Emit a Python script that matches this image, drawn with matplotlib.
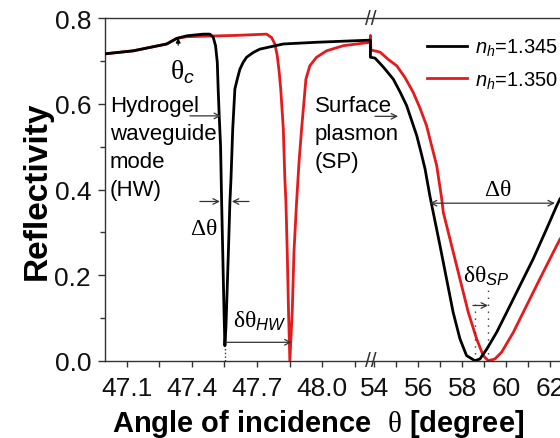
import numpy as np
import matplotlib
matplotlib.use("Agg")
import matplotlib.pyplot as plt
from matplotlib.scale import FuncScale
from matplotlib.ticker import FixedLocator, FixedFormatter

plt.rcParams['font.family'] = ['Liberation Sans', 'DejaVu Sans']
plt.rcParams['mathtext.fontset'] = 'custom'
plt.rcParams['mathtext.rm'] = 'Liberation Serif'
plt.rcParams['mathtext.it'] = 'Liberation Sans:italic'
plt.rcParams['mathtext.bf'] = 'Liberation Sans:bold'
plt.rcParams['mathtext.sf'] = 'Liberation Sans'

# ---------------- data ----------------
# broken axis: left segment 47.0-48.222 deg, right segment 53.82-62.46 deg
left_end = 48.222
right_start = 53.82

black_angle = [47.0, 47.13, 47.284, 47.33, 47.376, 47.452, 47.483, 47.498, 47.509,
               47.517, 47.521, 47.526, 47.532, 47.537, 47.542, 47.548, 47.552,
               47.557, 47.563, 47.569, 47.575, 47.580, 47.588, 47.598, 47.609,
               47.621, 47.636, 47.652, 47.682, 47.713, 47.821, 47.974, 48.222,
               53.82, 54.03, 54.41, 54.86, 55.17, 55.47, 55.70, 55.93, 56.12, 56.31,
               56.53, 56.68, 56.99, 57.29, 57.59, 57.90, 58.20, 58.58, 58.81, 59.12,
               59.57, 60.03, 60.63, 61.24, 61.85, 62.31, 62.46]
black_refl = [0.717, 0.724, 0.740, 0.753, 0.759, 0.763, 0.763, 0.756, 0.736,
              0.697, 0.635, 0.570, 0.502, 0.37, 0.254, 0.114, 0.035,
              0.082, 0.175, 0.269, 0.37, 0.425, 0.541, 0.635, 0.658,
              0.681, 0.697, 0.709, 0.720, 0.728, 0.740, 0.744, 0.749,
              0.709, 0.707, 0.686, 0.658, 0.628, 0.596, 0.561, 0.526, 0.488, 0.448,
              0.385, 0.347, 0.269, 0.191, 0.113, 0.051, 0.012, 0.0, 0.004, 0.027,
              0.066, 0.113, 0.175, 0.238, 0.308, 0.362, 0.378]

red_angle = [47.0, 47.13, 47.284, 47.33, 47.376, 47.45, 47.6, 47.744, 47.767,
             47.782, 47.793, 47.802, 47.809, 47.821, 47.828, 47.833, 47.839, 47.845,
             47.851, 47.862, 47.870, 47.882, 47.893, 47.905, 47.925, 47.943, 47.974,
             48.020, 48.097, 48.222,
             53.82, 53.84, 54.26, 54.63, 55.02, 55.39, 55.77, 56.08, 56.38, 56.61,
             56.84, 57.07, 57.14, 57.52, 57.90, 58.28, 58.66, 58.96, 59.19, 59.49,
             59.80, 60.33, 60.94, 61.54, 62.15, 62.46]
red_refl = [0.717, 0.724, 0.740, 0.753, 0.757, 0.758, 0.760, 0.763, 0.755,
            0.740, 0.713, 0.674, 0.635, 0.541, 0.425, 0.37, 0.254, 0.114,
            0.0, 0.114, 0.254, 0.37, 0.462, 0.541, 0.658, 0.689, 0.709,
            0.724, 0.736, 0.744,
            0.760, 0.726, 0.721, 0.704, 0.689, 0.662, 0.627, 0.590, 0.549, 0.502,
            0.456, 0.378, 0.347, 0.269, 0.191, 0.113, 0.051, 0.012, 0.0, 0.004,
            0.02, 0.066, 0.129, 0.191, 0.253, 0.284]

series_labels = [r'$n_h$=1.345', r'$n_h$=1.350']
major_ticks = [47.1, 47.4, 47.7, 48.0, 54, 56, 58, 60, 62]
major_labels = ['47.1', '47.4', '47.7', '48.0', '54', '56', '58', '60', '62']
minor_ticks = [47.25, 47.55, 47.85, 48.15, 55, 57, 59, 61]

# ---------------- broken-axis scale ----------------
k = 21.95 / 217.3


def fwd(x):
    x = np.asarray(x, dtype=float)
    mid = 0.5 * (left_end + right_start)
    return np.where(x <= mid, x, left_end + (x - right_start) * k)


def inv(y):
    y = np.asarray(y, dtype=float)
    return np.where(y <= left_end, y, right_start + (y - left_end) / k)


fig = plt.figure(figsize=(5.6, 4.39), dpi=100)
ax = fig.add_axes([105 / 560, 77.3 / 439, 455 / 560, 342.4 / 439])
ax.set_xscale(FuncScale(ax, (fwd, inv)))

BLACK = '#000000'
RED = '#e41a1c'
ax.plot(black_angle, black_refl, color=BLACK, lw=2.0, label=series_labels[0], zorder=3,
        solid_joinstyle='round')
ax.plot(red_angle, red_refl, color=RED, lw=2.0, label=series_labels[1], zorder=2,
        solid_joinstyle='round')

ax.set_xlim(47.0, 62.46)
ax.set_ylim(0, 0.8)

ax.xaxis.set_major_locator(FixedLocator(major_ticks))
ax.xaxis.set_major_formatter(FixedFormatter(major_labels))
ax.xaxis.set_minor_locator(FixedLocator(minor_ticks))
ax.set_yticks([0.0, 0.2, 0.4, 0.6, 0.8])
ax.set_yticklabels(['0.0', '0.2', '0.4', '0.6', '0.8'])
ax.set_yticks([0.1, 0.3, 0.5, 0.7], minor=True)

sc = '#333333'
for s in ['left', 'bottom', 'top']:
    ax.spines[s].set_color(sc)
    ax.spines[s].set_linewidth(1.0)
ax.spines['right'].set_visible(False)
ax.tick_params(axis='both', which='both', direction='out', color=sc, width=1.0,
               labelsize=19, labelcolor='#111111')
ax.tick_params(axis='x', which='both', length=4, pad=7)
ax.tick_params(axis='y', which='major', length=5, pad=5)
ax.tick_params(axis='y', which='minor', length=3.5)

ax.set_ylabel('Reflectivity', fontsize=24, fontweight='bold', labelpad=1)
ax.set_xlabel(r'Angle of incidence  $\mathrm{\theta}$ [degree]', fontsize=21,
              fontweight='bold')
ax.xaxis.set_label_coords((318 - 105) / 455, -0.135)
ax.xaxis.label.set_va('top')

# break marks
for yy in (1.0, 0.0):
    ax.text(left_end, yy, '//', transform=ax.get_xaxis_transform(), ha='center',
            va='center', fontsize=15, color=sc, clip_on=False)

# legend
leg = ax.legend(loc='upper left', bbox_to_anchor=(427 / 560, (439 - 38) / 439),
                bbox_transform=fig.transFigure, frameon=False, fontsize=14.5,
                handlelength=2.0, handletextpad=0.4, borderpad=0, borderaxespad=0,
                labelspacing=0.55)

ac = '#333333'
ap = dict(arrowstyle='->', lw=0.9, color=ac, shrinkA=0, shrinkB=0, mutation_scale=10)

# HW text + arrow
ax.text(47.023, 0.621, 'Hydrogel\nwaveguide\nmode\n(HW)', fontsize=16, ha='left', va='top',
        linespacing=1.43)
ax.annotate('', xy=(47.534, 0.572), xytext=(47.391, 0.572), arrowprops=ap)

# theta_c
ax.annotate('', xy=(47.337, 0.754), xytext=(47.337, 0.737),
            arrowprops=dict(arrowstyle='-|>', lw=0.8, color='k', shrinkA=0, shrinkB=0,
                            mutation_scale=7))
ax.text(47.30, 0.676, r'$\mathrm{\theta}_c$', fontsize=20, ha='left', va='center')

# delta theta (HW)
ax.annotate('', xy=(47.529, 0.372), xytext=(47.437, 0.372), arrowprops=ap)
ax.annotate('', xy=(47.584, 0.372), xytext=(47.663, 0.372), arrowprops=ap)
ax.text(47.453, 0.309, r'$\mathrm{\Delta\theta}$', fontsize=17, ha='center', va='center')

# small delta theta HW
ax.annotate('', xy=(47.859, 0.043), xytext=(47.556, 0.043), arrowprops=ap)
ax.text(47.59, 0.094, r'$\mathrm{\delta\theta}_{HW}$', fontsize=17, ha='left', va='center')
ax.plot([47.552, 47.552], [0.0, 0.03], ls=':', color=ac, lw=1)

# SP text + arrow
ax.text(47.966, 0.621, 'Surface\nplasmon\n(SP)', fontsize=16, ha='left', va='top',
        linespacing=1.43)
ax.annotate('', xy=(55.08, 0.571), xytext=(54.03, 0.571), arrowprops=ap)

# delta theta SP
ax.annotate('', xy=(62.23, 0.368), xytext=(56.53, 0.368),
            arrowprops=dict(arrowstyle='<->', lw=0.9, color=ac, shrinkA=0, shrinkB=0,
                            mutation_scale=10))
ax.text(59.63, 0.401, r'$\mathrm{\Delta\theta}$', fontsize=17, ha='center', va='center')

# small delta theta SP
ax.annotate('', xy=(59.18, 0.129), xytext=(58.49, 0.129), arrowprops=ap)
ax.text(58.05, 0.2, r'$\mathrm{\delta\theta}_{SP}$', fontsize=17, ha='left', va='center')
ax.plot([58.58, 58.58], [0.0, 0.14], ls=(0, (1, 4)), color=ac, lw=1)
ax.plot([59.19, 59.19], [0.0, 0.17], ls=(0, (1, 4)), color=ac, lw=1)

fig.savefig('out.png', dpi=100)
